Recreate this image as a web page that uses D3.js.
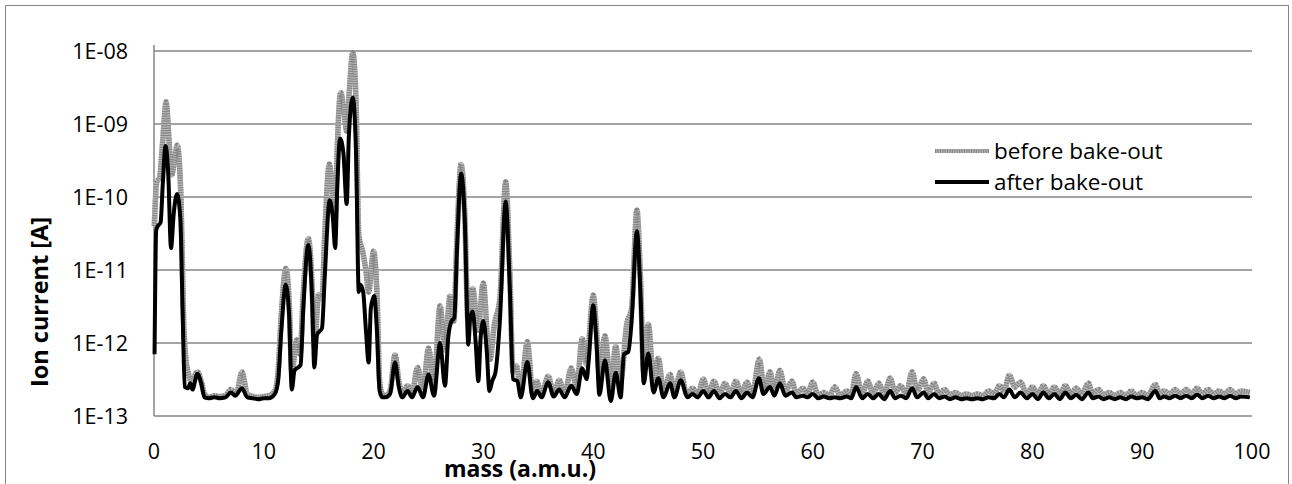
<!DOCTYPE html>
<html>
<head>
<meta charset="utf-8">
<script src="https://cdn.jsdelivr.net/npm/d3@7"></script>
<style>
  body { margin: 0; background: #fff; }
  svg { display: block; font-family: "Open Sans", "Noto Sans", sans-serif; }
</style>
</head>
<body>
<div id="chart"></div>
<script>
/*
 *  DATA: mass (a.m.u.) vs ion current (A)
 */
var seriesNames = ["before bake-out", "after bake-out"];
var xTicks = [0, 10, 20, 30, 40, 50, 60, 70, 80, 90, 100];
var yTicks = [1e-13, 1e-12, 1e-11, 1e-10, 1e-9, 1e-8];
var yTickLabels = ["1E-13", "1E-12", "1E-11", "1E-10", "1E-09", "1E-08"];

var beforeData = [
  [0.03,4e-11],[0.25,1.6e-10],[0.5,1.8e-10],[0.8,6e-10],[1.1,2e-9],[1.4,5e-10],[1.6,2e-10],
  [1.85,3e-10],[2.12,5.1e-10],[2.45,1e-10],[2.7,2e-12],[2.9,6e-13],[3.1,4e-13],[3.4,3e-13],
  [3.95,4e-13],[4.3,3e-13],[4.6,2e-13],[5,1.8e-13],[5.5,1.9e-13],[6,1.85e-13],[6.5,1.9e-13],
  [7,2.3e-13],[7.5,2e-13],[8,4e-13],[8.5,2e-13],[9,1.85e-13],[9.5,1.8e-13],[10,1.85e-13],
  [10.5,1.9e-13],[11,2.2e-13],[11.3,4e-13],[11.6,2.5e-12],[12,1.05e-11],[12.3,4e-12],
  [12.55,4e-13],[13,1.1e-12],[13.3,7e-13],[13.6,5e-12],[14.05,2.7e-11],[14.4,6e-12],
  [14.6,9e-13],[15,4.6e-12],[15.3,4e-12],[15.55,3e-11],[15.97,2.8e-10],[16.3,1e-10],
  [16.5,5e-11],[16.7,5e-10],[17,2.7e-9],[17.3,1.5e-9],[17.55,8e-10],[17.8,3e-9],[18.1,9.5e-9],
  [18.4,2e-9],[18.65,3e-11],[19,1.8e-11],[19.3,1e-11],[19.55,5e-12],[20,1.8e-11],[20.3,5e-12],
  [20.55,3e-13],[20.8,2e-13],[21.1,1.9e-13],[21.5,2.2e-13],[21.95,6.9e-13],[22.3,3e-13],
  [22.6,2e-13],[23.1,2.6e-13],[23.5,2e-13],[24,4.6e-13],[24.5,2.2e-13],[25,8.5e-13],
  [25.5,2.8e-13],[26.05,3.2e-12],[26.5,8e-13],[26.96,4.4e-12],[27.3,2e-12],[27.6,3e-11],
  [27.97,2.8e-10],[28.3,6e-11],[28.6,2e-12],[29.02,5.6e-12],[29.5,1.5e-12],[29.99,6.6e-12],
  [30.4,1e-12],[30.6,6e-13],[31,1.8e-12],[31.5,4e-12],[32.03,1.6e-10],[32.4,1e-11],
  [32.7,4e-13],[33,4.9e-13],[33.4,2.2e-13],[34,1.04e-12],[34.5,2e-13],[34.85,3e-13],
  [35.3,2e-13],[35.9,3.5e-13],[36.4,2e-13],[36.9,3.1e-13],[37.4,2e-13],[38,4.5e-13],
  [38.5,2.5e-13],[39,1.15e-12],[39.4,5e-13],[39.6,1e-12],[40,4.5e-12],[40.3,1.5e-12],
  [40.56,3.5e-13],[41.07,1.25e-12],[41.6,2.5e-13],[42.05,9e-13],[42.5,3e-13],[43.05,1.8e-12],
  [43.5,3e-12],[43.98,6.6e-11],[44.3,8e-12],[44.6,4e-13],[45.02,1.8e-12],[45.5,3e-13],
  [45.93,6.2e-13],[46.4,2.2e-13],[47,3.7e-13],[47.4,2.2e-13],[47.97,4e-13],[48.5,2e-13],
  [49.06,2.4e-13],[49.5,1.9e-13],[50.03,3.2e-13],[50.5,2e-13],[51,3e-13],[51.5,2e-13],
  [52,2.8e-13],[52.5,2e-13],[53,3e-13],[53.5,2e-13],[54,2.9e-13],[54.5,2e-13],[55.13,6e-13],
  [55.6,2.2e-13],[56.1,4e-13],[56.5,2.2e-13],[57,4.2e-13],[57.5,2.2e-13],[58.1,3e-13],
  [58.5,2e-13],[59.1,2.4e-13],[59.5,2e-13],[60,2.9e-13],[60.5,1.9e-13],[61,2.1e-13],
  [61.5,1.9e-13],[62,2.5e-13],[62.5,1.9e-13],[63.1,2.2e-13],[63.5,1.9e-13],[63.93,3.8e-13],
  [64.5,2e-13],[65,3e-13],[65.5,2e-13],[66,2.8e-13],[66.5,2e-13],[67.05,3.3e-13],[67.5,2.1e-13],
  [68,2.6e-13],[68.5,2e-13],[69.05,4e-13],[69.5,2.2e-13],[70.1,3.2e-13],[70.5,2.1e-13],
  [71.05,2.8e-13],[71.5,2e-13],[72,2.3e-13],[72.5,1.95e-13],[73,2.1e-13],[73.5,1.9e-13],
  [74,2e-13],[74.5,1.9e-13],[75,2e-13],[75.5,1.9e-13],[76,2.2e-13],[76.5,2e-13],[77,2.6e-13],
  [77.4,2.2e-13],[77.9,3.6e-13],[78.4,2.5e-13],[78.9,2.9e-13],[79.5,2e-13],[80,2.5e-13],
  [80.5,2e-13],[81,2.6e-13],[81.5,2e-13],[82,2.5e-13],[82.5,2e-13],[83,2.6e-13],[83.5,2e-13],
  [84,2.4e-13],[84.5,2e-13],[85.1,2.8e-13],[85.5,2e-13],[86,2.3e-13],[86.5,1.95e-13],
  [87,2.1e-13],[87.5,1.9e-13],[88,2.1e-13],[88.5,1.9e-13],[89,2.2e-13],[89.5,1.9e-13],
  [90,2.1e-13],[90.5,1.9e-13],[91.2,2.7e-13],[91.6,2e-13],[92,2.2e-13],[92.5,2e-13],
  [93,2.3e-13],[93.5,2e-13],[94,2.3e-13],[94.5,2e-13],[95,2.4e-13],[95.5,2e-13],[96,2.3e-13],
  [96.5,2e-13],[97,2.2e-13],[97.5,2e-13],[98,2.3e-13],[98.5,2e-13],[99,2.2e-13],[99.8,2.1e-13]
];

var afterData = [
  [0.05,7e-13],[0.2,3.5e-11],[0.35,4e-11],[0.6,4.5e-11],[0.8,1.5e-10],[1.05,5e-10],[1.3,2e-10],
  [1.55,2e-11],[1.8,6e-11],[2.1,1.1e-10],[2.4,5e-11],[2.6,3e-12],[2.8,2.5e-13],[3.1,2.4e-13],
  [3.3,2.8e-13],[3.5,2.3e-13],[3.95,3.8e-13],[4.3,2.8e-13],[4.6,1.8e-13],[5,1.75e-13],
  [5.5,1.8e-13],[6,1.75e-13],[6.5,1.8e-13],[7,2.1e-13],[7.4,1.9e-13],[8,2.4e-13],[8.5,1.8e-13],
  [9,1.75e-13],[9.5,1.7e-13],[10,1.75e-13],[10.5,1.75e-13],[11,2e-13],[11.3,3e-13],
  [11.6,1.5e-12],[12,6.3e-12],[12.3,2.5e-12],[12.55,2.3e-13],[12.8,4.2e-13],[13.1,4.6e-13],
  [13.35,5e-13],[13.6,3e-12],[14.05,2.2e-11],[14.4,4e-12],[14.6,4.6e-13],[14.85,1.3e-12],
  [15.3,1.6e-12],[15.55,8e-12],[16,9e-11],[16.3,5e-11],[16.5,2e-11],[16.7,1.5e-10],
  [16.95,6.3e-10],[17.25,4e-10],[17.55,8e-11],[17.75,7e-10],[18.1,2.3e-9],[18.4,4e-10],
  [18.65,5e-12],[18.8,6.3e-12],[19.05,5e-12],[19.3,1.5e-12],[19.55,5.4e-13],[19.75,3e-12],
  [20.05,4.4e-12],[20.3,1.5e-12],[20.55,2.2e-13],[20.8,1.8e-13],[21.1,1.8e-13],[21.5,2e-13],
  [21.95,5.4e-13],[22.3,2.5e-13],[22.6,1.8e-13],[23.1,2.2e-13],[23.5,1.8e-13],[24,2.5e-13],
  [24.5,1.8e-13],[25,3.7e-13],[25.5,1.9e-13],[26.05,1e-12],[26.5,2.6e-13],[26.8,1.2e-12],
  [27.1,2e-12],[27.35,2.2e-12],[27.6,2e-11],[27.97,2.1e-10],[28.3,5e-11],[28.63,9.5e-13],
  [28.8,2.2e-12],[29.02,2.7e-12],[29.3,1e-12],[29.54,3e-13],[29.75,1.2e-12],[30,2e-12],
  [30.3,8e-13],[30.55,2.2e-13],[30.8,3e-13],[31.1,4e-13],[31.5,2e-12],[32.03,8.7e-11],
  [32.4,6e-12],[32.7,3.2e-13],[33.1,3e-13],[33.4,1.8e-13],[34,5.5e-13],[34.5,1.75e-13],
  [34.9,2.2e-13],[35.3,1.8e-13],[35.9,2.9e-13],[36.4,1.85e-13],[36.9,2.3e-13],[37.4,1.8e-13],
  [38,2.6e-13],[38.5,2e-13],[39,4.5e-13],[39.4,3.2e-13],[39.6,6e-13],[40,3.3e-12],[40.3,1e-12],
  [40.56,1.95e-13],[41.07,5.8e-13],[41.6,1.6e-13],[42.05,3.9e-13],[42.5,1.8e-13],[42.8,7e-13],
  [43.2,7.6e-13],[43.5,2e-12],[43.98,3.4e-11],[44.3,5e-12],[44.6,2.8e-13],[45.02,7.2e-13],
  [45.5,2.1e-13],[45.93,3.3e-13],[46.4,1.8e-13],[47,2.8e-13],[47.4,1.8e-13],[47.97,3.1e-13],
  [48.6,1.8e-13],[49.05,2e-13],[49.5,1.8e-13],[50.03,2.2e-13],[50.5,1.8e-13],[51,2.2e-13],
  [51.5,1.75e-13],[52,2e-13],[52.5,1.8e-13],[53,2.2e-13],[53.5,1.75e-13],[54,2.1e-13],
  [54.5,1.8e-13],[55.1,3.3e-13],[55.5,2e-13],[56.1,2.5e-13],[56.5,1.9e-13],[57,2.8e-13],
  [57.5,1.9e-13],[58.1,2.1e-13],[58.5,1.8e-13],[59.1,1.9e-13],[59.5,1.8e-13],[60,2e-13],
  [60.5,1.75e-13],[61,1.85e-13],[61.5,1.75e-13],[62,1.8e-13],[62.5,1.75e-13],[63.1,1.85e-13],
  [63.5,1.75e-13],[63.95,2.5e-13],[64.5,1.75e-13],[65,2e-13],[65.5,1.75e-13],[66,2e-13],
  [66.5,1.7e-13],[67.05,2.2e-13],[67.5,1.75e-13],[68,1.9e-13],[68.5,1.75e-13],[69.05,2.4e-13],
  [69.5,1.8e-13],[70.1,2.1e-13],[70.5,1.75e-13],[71.05,2e-13],[71.5,1.75e-13],[72,1.85e-13],
  [72.5,1.7e-13],[73,1.8e-13],[73.5,1.7e-13],[74,1.75e-13],[74.5,1.7e-13],[75,1.75e-13],
  [75.5,1.7e-13],[76,1.8e-13],[76.5,1.75e-13],[77,2e-13],[77.4,1.8e-13],[77.9,2.3e-13],
  [78.4,1.8e-13],[78.9,2.1e-13],[79.5,1.75e-13],[80,2e-13],[80.5,1.7e-13],[81,2.1e-13],
  [81.5,1.75e-13],[82,2e-13],[82.5,1.7e-13],[83,2.1e-13],[83.5,1.75e-13],[84,1.95e-13],
  [84.5,1.7e-13],[85.1,2.1e-13],[85.5,1.75e-13],[86,1.85e-13],[86.5,1.7e-13],[87,1.8e-13],
  [87.5,1.7e-13],[88,1.8e-13],[88.5,1.7e-13],[89,1.85e-13],[89.5,1.75e-13],[90,1.8e-13],
  [90.5,1.7e-13],[91.2,2.2e-13],[91.6,1.75e-13],[92,1.85e-13],[92.5,1.75e-13],[93,1.9e-13],
  [93.5,1.75e-13],[94,1.9e-13],[94.5,1.75e-13],[95,1.95e-13],[95.5,1.75e-13],[96,1.9e-13],
  [96.5,1.75e-13],[97,1.85e-13],[97.5,1.75e-13],[98,1.9e-13],[98.5,1.75e-13],[99,1.85e-13],
  [99.8,1.8e-13]
];

/*
 *  LAYOUT
 */
var W = 1292, H = 484;
var plot = {left: 154, right: 1252, top: 51, bottom: 416};
var gridColor = "#868686";

var svg = d3.select("#chart").append("svg")
    .attr("width", W)
    .attr("height", H);

// outer chart border
svg.append("rect")
    .attr("x", 5.5).attr("y", 5.5)
    .attr("width", 1283).attr("height", 490)
    .attr("fill", "none")
    .attr("stroke", gridColor)
    .attr("stroke-width", 1);

var x_scale = d3.scaleLinear()
    .domain([0, 100])
    .range([plot.left, plot.right]);

var y_scale = d3.scaleLog()
    .domain([1e-13, 1e-8])
    .range([plot.bottom, plot.top]);

// horizontal gridlines
svg.selectAll(".grid")
    .data(yTicks)
    .enter()
    .append("line")
    .attr("class", "grid")
    .attr("x1", plot.left).attr("x2", plot.right)
    .attr("y1", function(d) { return y_scale(d); })
    .attr("y2", function(d) { return y_scale(d); })
    .attr("stroke", gridColor)
    .attr("stroke-width", 1.5);

// vertical axis line
svg.append("line")
    .attr("x1", plot.left).attr("x2", plot.left)
    .attr("y1", plot.top - 6).attr("y2", plot.bottom)
    .attr("stroke", gridColor)
    .attr("stroke-width", 1.5);

// y tick labels
svg.selectAll(".ylab")
    .data(yTicks)
    .enter()
    .append("text")
    .attr("class", "ylab")
    .attr("x", 128)
    .attr("y", function(d) { return y_scale(d) + 8; })
    .attr("text-anchor", "end")
    .attr("font-size", 21.5)
    .attr("fill", "#000")
    .text(function(d, i) { return yTickLabels[i]; });

// x tick labels
svg.selectAll(".xlab")
    .data(xTicks)
    .enter()
    .append("text")
    .attr("class", "xlab")
    .attr("x", function(d) { return x_scale(d); })
    .attr("y", 459)
    .attr("text-anchor", "middle")
    .attr("font-size", 21.5)
    .attr("fill", "#000")
    .text(function(d) { return d; });

// axis titles
svg.append("text")
    .attr("transform", "translate(48,302)rotate(-90)")
    .attr("text-anchor", "middle")
    .attr("font-size", 23.5)
    .attr("font-weight", "bold")
    .text("Ion current [A]");

svg.append("text")
    .attr("x", 520)
    .attr("y", 477)
    .attr("text-anchor", "middle")
    .attr("font-size", 23)
    .attr("font-weight", "bold")
    .text("mass (a.m.u.)");

/*
 *  SERIES
 */
var valueline = d3.line()
    .curve(d3.curveMonotoneX)
    .x(function(d) { return x_scale(d[0]); })
    .y(function(d) { return y_scale(d[1]); });

// before bake-out: grey line with a dotted texture
svg.append("path")
    .datum(beforeData)
    .attr("fill", "none")
    .attr("stroke", "#b8b8b8")
    .attr("stroke-width", 5.5)
    .attr("stroke-linejoin", "round")
    .attr("d", valueline);
svg.append("path")
    .datum(beforeData)
    .attr("fill", "none")
    .attr("stroke", "#858585")
    .attr("stroke-width", 5.5)
    .style("stroke-dasharray", "1.2,1.2")
    .attr("d", valueline);

// after bake-out
svg.append("path")
    .datum(afterData)
    .attr("fill", "none")
    .attr("stroke", "#000")
    .attr("stroke-width", 4)
    .attr("stroke-linejoin", "round")
    .attr("d", valueline);

/*
 *  LEGEND
 */
var legend = svg.append("g").attr("transform", "translate(935,151)");

legend.append("line")
    .attr("x1", 0).attr("x2", 54).attr("y1", 0).attr("y2", 0)
    .attr("stroke", "#b8b8b8").attr("stroke-width", 4);
legend.append("line")
    .attr("x1", 0).attr("x2", 54).attr("y1", 0).attr("y2", 0)
    .attr("stroke", "#858585").attr("stroke-width", 4)
    .style("stroke-dasharray", "1.2,1.2");
legend.append("line")
    .attr("x1", 0).attr("x2", 54).attr("y1", 31).attr("y2", 31)
    .attr("stroke", "#000").attr("stroke-width", 4);

legend.selectAll(".legtext")
    .data(seriesNames)
    .enter()
    .append("text")
    .attr("class", "legtext")
    .attr("x", 59)
    .attr("y", function(d, i) { return i * 31 + 8; })
    .attr("font-size", 22.5)
    .text(function(d) { return d; });
</script>
</body>
</html>
